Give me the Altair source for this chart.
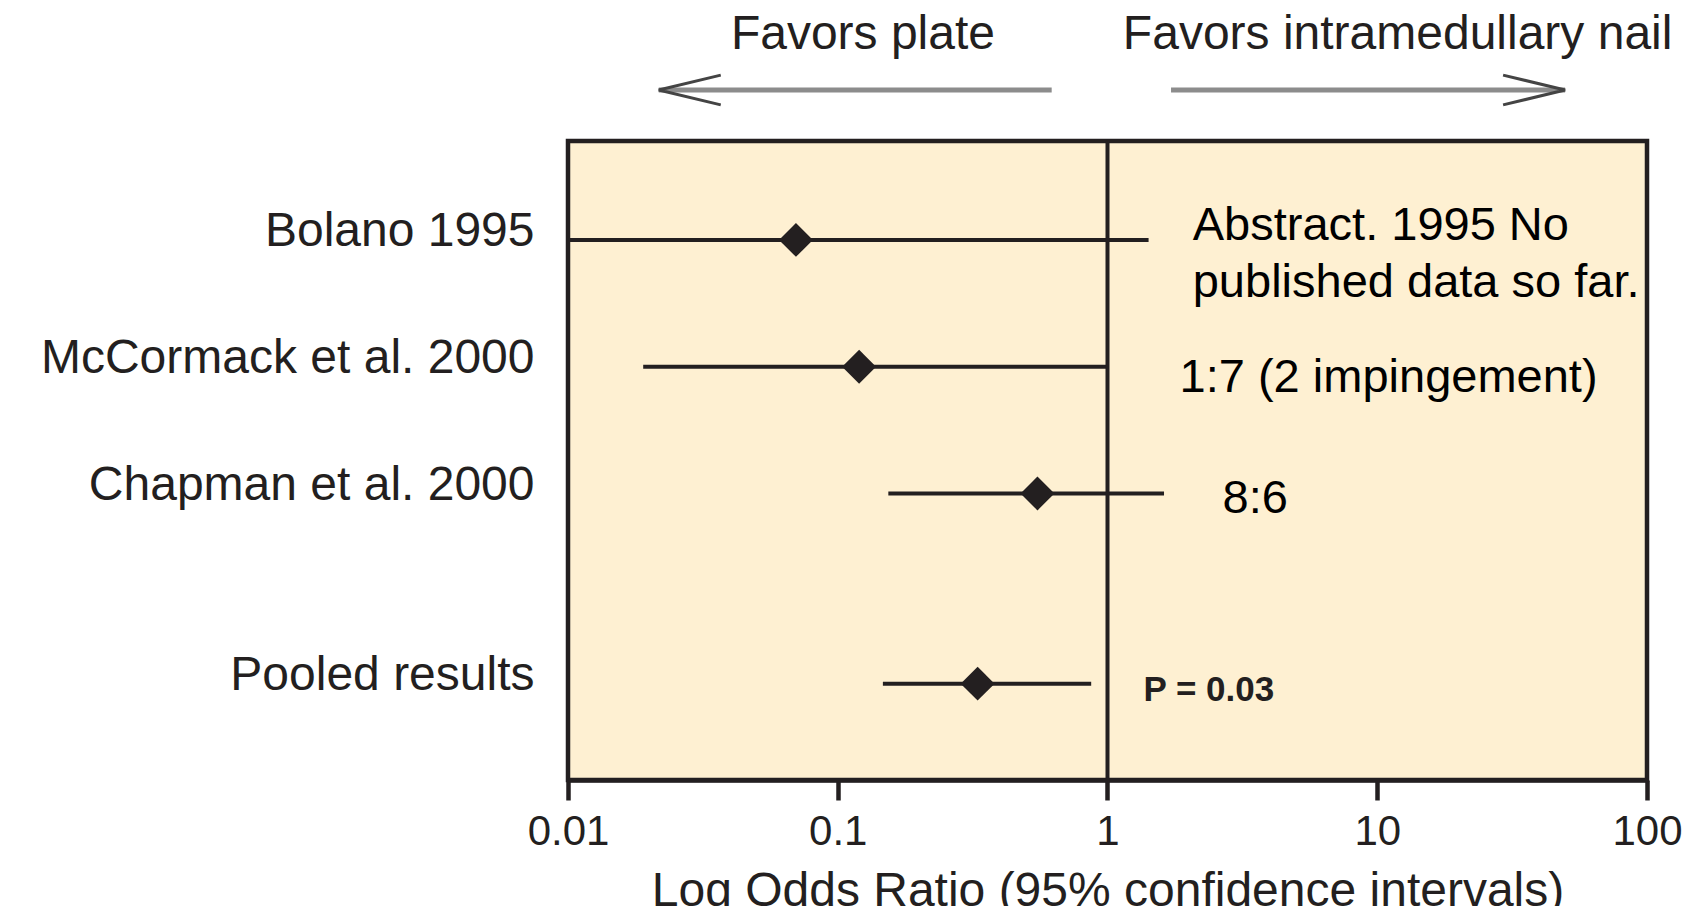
import altair as alt
import pandas as pd

# ---- data ----
studies = ["Bolano 1995", "McCormack et al. 2000", "Chapman et al. 2000", "Pooled results"]
rows = [1, 2, 3, 4.5]
odds_ratio = [0.07, 0.12, 0.55, 0.33]
ci_low = [0.01, 0.019, 0.154, 0.147]
ci_high = [1.42, 0.99, 1.62, 0.87]

note_lines = [["Abstract. 1995 No", "published data so far."], ["1:7 (2 impingement)"], ["8:6"]]
note_x = [2.07, 1.85, 2.67]
note_row = [1, 2, 3]

p_text = ["P = 0.03"]
p_x = [1.36]
p_row = [4.5]

header_text = ["Favors plate", "Favors intramedullary nail"]
header_x = [0.124, 11.9]
arrow_from = [0.621, 1.72]
arrow_to = [0.0217, 49.7]
arrow_shape = ["M 2 -0.48 L 0 0 L 2 0.48", "M -2 -0.48 L 0 0 L -2 0.48"]

x_ticks = [0.01, 0.1, 1, 10, 100]
reference_or = [1]
x_title = "Log Odds Ratio (95% confidence intervals)"

INK = "#231f20"
FONT = "Liberation Sans"

df = pd.DataFrame({"study": studies, "row": rows, "or": odds_ratio, "lo": ci_low, "hi": ci_high})

xs = alt.Scale(type="log", domain=[0.01, 100])
ys = alt.Scale(domain=[0.22, 5.26], reverse=True)

label_expr = " : ".join(
    f"datum.value == {r} ? '{s}'" for r, s in zip(rows, studies)
) + " : ''"

xaxis = alt.Axis(
    values=x_ticks, format="~g", tickSize=20, tickWidth=4.5, tickColor=INK,
    domainColor=INK, domainWidth=4.5, labelFontSize=42, labelFont=FONT, labelColor=INK,
    labelPadding=11, labelFlush=False, labelOverlap=False, grid=False,
    title=x_title, titleFontSize=48, titleFont=FONT, titleFontWeight="normal",
    titleColor=INK, titlePadding=15,
)
yaxis = alt.Axis(
    values=rows, labelExpr=label_expr, ticks=False, domain=False, grid=False,
    labelPadding=34, labelFontSize=48, labelFont=FONT, labelColor=INK,
    labelOffset=-8, labelBaseline="middle", labelAlign="right", labelLimit=700, title=None,
)


def X(field):
    return alt.X(field, type="quantitative", scale=xs, axis=xaxis)


def Y(field):
    return alt.Y(field, type="quantitative", scale=ys, axis=yaxis)


ci = alt.Chart(df).mark_rule(color=INK, strokeWidth=4).encode(
    x=X("lo"), x2="hi", y=Y("row"),
)

ref = alt.Chart(pd.DataFrame({"x": reference_or})).mark_rule(color=INK, strokeWidth=4).encode(
    x=X("x")
)

pts = alt.Chart(df).mark_point(shape="diamond", filled=True, size=1150, color=INK, opacity=1).encode(
    x=X("or"), y=Y("row"),
)

layers = [ci, ref, pts]

note_dy = [-14, 11, 6]
for lines, nx, nr, dy in zip(note_lines, note_x, note_row, note_dy):
    ndf = pd.DataFrame({"x": [nx], "row": [nr], "t": [lines]})
    layers.append(
        alt.Chart(ndf).mark_text(
            align="left", baseline="middle", dy=dy, fontSize=47, font=FONT,
            lineHeight=57, color="black"
        ).encode(x=X("x"), y=Y("row"), text="t")
    )

pdf = pd.DataFrame({"x": p_x, "row": p_row, "t": p_text})
layers.append(
    alt.Chart(pdf).mark_text(
        align="left", baseline="middle", dy=6, fontSize=35, font=FONT,
        fontWeight="bold", color=INK
    ).encode(x=X("x"), y=Y("row"), text="t:N")
)

hdf = pd.DataFrame({"x": header_x, "t": header_text})
layers.append(
    alt.Chart(hdf).mark_text(
        align="center", baseline="middle", fontSize=48, font=FONT, color=INK
    ).encode(x=X("x"), y=alt.value(-106), text="t:N")
)

adf = pd.DataFrame({"a": arrow_from, "b": arrow_to, "shape": arrow_shape})
layers.append(
    alt.Chart(adf).mark_rule(color="#8c8c8c", strokeWidth=5).encode(
        x=X("a"), x2="b", y=alt.value(-51),
    )
)
layers.append(
    alt.Chart(adf).mark_point(filled=False, size=3844, strokeWidth=3, color="#444444", opacity=1).encode(
        x=X("b"), y=alt.value(-51), shape=alt.Shape("shape:N", scale=None),
    )
)

chart = alt.layer(*layers).properties(
    width=1079,
    height=639,
    autosize=alt.AutoSizeParams(type="none"),
    padding={"left": 560, "top": 133, "right": 36, "bottom": 140},
    background="white",
).configure_view(fill="#FEF0D2", stroke=INK, strokeWidth=4.5)

chart.save("out.html", embed_options={"renderer": "svg", "actions": False})
